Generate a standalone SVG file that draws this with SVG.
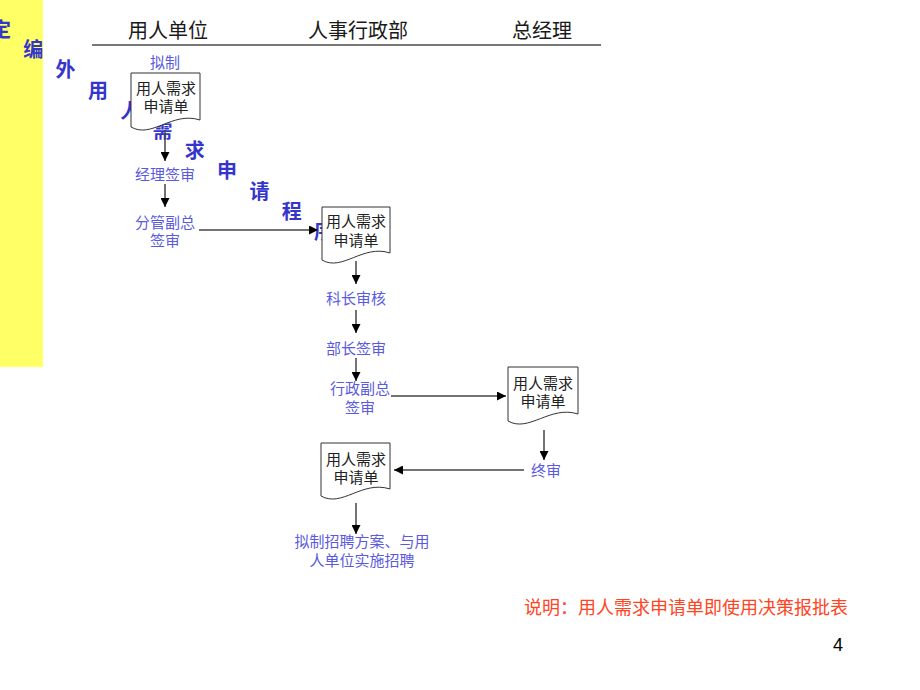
<svg xmlns="http://www.w3.org/2000/svg" width="920" height="690" viewBox="0 0 920 690">
<style>
.cjk{font-family:"Noto Sans CJK SC","Noto Sans",sans-serif}
.title{font-size:20px;font-weight:bold;fill:#3535cc;text-anchor:middle}
.head{font-size:20px;fill:#1a1a1a;text-anchor:middle}
.lbl{font-size:15px;fill:#5a5ae0;text-anchor:middle}
.doctext{font-size:15px;fill:#222;text-anchor:middle}
.doc{fill:#fff;stroke:#333;stroke-width:1}
.conn{stroke:#444;stroke-width:1.5;fill:none;marker-end:url(#arr)}
.note{font-size:18px;fill:#ff4422}
</style>
<defs>
<marker id="arr" viewBox="0 0 10 10" refX="10" refY="5" markerWidth="6" markerHeight="6" markerUnits="strokeWidth" orient="auto">
<path d="M0,0 L10,5 L0,10 Z" fill="#000"/>
</marker>
</defs>
<rect x="0" y="0" width="43" height="367" fill="#ffff66"/>
<g id="title" class="cjk title">
<text x="1" y="37">定</text>
<text x="33.3" y="57.2">编</text>
<text x="65.6" y="77.4">外</text>
<text x="97.9" y="97.6">用</text>
<text x="130.2" y="117.8">人</text>
<text x="162.5" y="138">需</text>
<text x="194.8" y="158.2">求</text>
<text x="227.1" y="178.4">申</text>
<text x="259.4" y="198.6">请</text>
<text x="291.7" y="218.8">程</text>
<text x="324" y="239">序</text>
</g>
<g id="header" class="cjk head">
<text x="168" y="37.5">用人单位</text>
<text x="358" y="37.5">人事行政部</text>
<text x="542" y="37.5">总经理</text>
<line x1="92" y1="45" x2="601" y2="45" stroke="#777" stroke-width="2"/>
</g>
<g id="connectors">
<line class="conn" x1="165" y1="130" x2="165" y2="161"/>
<line class="conn" x1="165" y1="184" x2="165" y2="207"/>
<line class="conn" x1="199" y1="230" x2="318" y2="230"/>
<line class="conn" x1="356" y1="261" x2="356" y2="284"/>
<line class="conn" x1="356" y1="310" x2="356" y2="333"/>
<line class="conn" x1="356" y1="358" x2="356" y2="381"/>
<line class="conn" x1="391" y1="396" x2="506" y2="396"/>
<line class="conn" x1="544" y1="430" x2="544" y2="460"/>
<line class="conn" x1="524" y1="470" x2="394" y2="470"/>
<line class="conn" x1="356" y1="503" x2="356" y2="534"/>
</g>
<g id="doc1">
<path class="doc" d="M131,73 H200 V120 C172,111 152,139 131,127 Z"/>
<text class="cjk doctext" x="166" y="94">用人需求</text>
<text class="cjk doctext" x="166" y="112">申请单</text>
</g>
<g id="doc2">
<path class="doc" d="M322,207 H390 V253 C363,244 342,272 322,260 Z"/>
<text class="cjk doctext" x="356" y="227">用人需求</text>
<text class="cjk doctext" x="356" y="246">申请单</text>
</g>
<g id="doc3">
<path class="doc" d="M508,367 H578 V414 C550,405 529,433 508,421 Z"/>
<text class="cjk doctext" x="543" y="389">用人需求</text>
<text class="cjk doctext" x="543" y="407">申请单</text>
</g>
<g id="doc4">
<path class="doc" d="M321,443 H390 V489 C362,480 342,508 321,496 Z"/>
<text class="cjk doctext" x="356" y="465">用人需求</text>
<text class="cjk doctext" x="356" y="483">申请单</text>
</g>
<g id="labels" class="cjk lbl">
<text x="165" y="67.5">拟制</text>
<text x="165" y="180">经理签审</text>
<text x="165" y="227.5">分管副总</text>
<text x="165" y="245.5">签审</text>
<text x="356" y="303.5">科长审核</text>
<text x="356" y="353.5">部长签审</text>
<text x="360" y="393.5">行政副总</text>
<text x="360" y="412.5">签审</text>
<text x="546" y="475.5">终审</text>
<text x="362" y="546.5">拟制招聘方案、与用</text>
<text x="362" y="565.5">人单位实施招聘</text>
</g>
<g id="note">
<text class="cjk note" x="524" y="614">说明：用人需求申请单即使用决策报批表</text>
</g>
<text x="838" y="651" font-family="Liberation Sans, sans-serif" font-size="18" fill="#000" text-anchor="middle">4</text>
</svg>
